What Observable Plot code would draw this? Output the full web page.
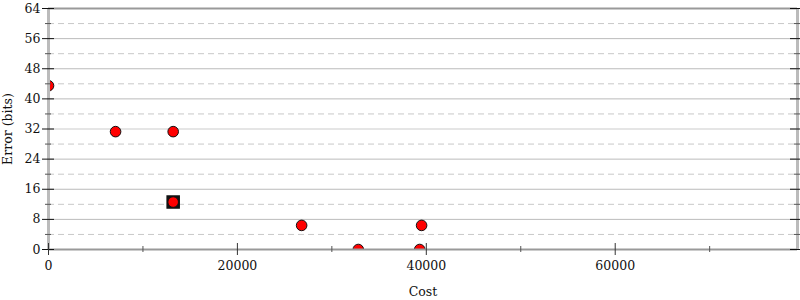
<!DOCTYPE html>
<html>
<head>
<meta charset="utf-8">
<script src="https://cdn.jsdelivr.net/npm/d3@7"></script>
<script src="https://cdn.jsdelivr.net/npm/@observablehq/plot@0.6"></script>
<style>
  html, body { margin: 0; padding: 0; background: #fff; }
  #chart svg { display: block; }
</style>
</head>
<body>
<div id="chart"></div>
<script>
const costs  = [0, 7100, 13200, 26800, 32800, 39300, 39500];
const errors = [43.5, 31.3, 31.3, 6.4, 0, 0, 6.4];
const highlightCost = [13200];
const highlightError = [12.6];
const dotCosts = [13200];
const dotErrors = [12.6];
const yMajor = [0, 8, 16, 24, 32, 40, 48, 56, 64];
const yGridDark = [8, 16, 24, 40, 48, 56];
const yGridLight = [32];
const yMinor = [4, 12, 20, 28, 36, 44, 52, 60];
const xMajor = [0, 20000, 40000, 60000];
const xMinor = [10000, 30000, 50000, 70000];
const xMax = 79300;

const pts = costs.map((c, i) => ({cost: c, error: errors[i]}));
const hl = highlightCost.map((c, i) => ({cost: c, error: highlightError[i]}));
const extra = dotCosts.map((c, i) => ({cost: c, error: dotErrors[i]}));

const plot = Plot.plot({
  width: 800,
  height: 300,
  marginLeft: 48,
  marginRight: 3,
  marginTop: 8,
  marginBottom: 51,
  style: {fontFamily: "DejaVu Serif", fontSize: "12.5px", color: "#111", background: "#fff"},
  x: {domain: [0, xMax]},
  y: {domain: [0, 64]},
  marks: [
    Plot.ruleY(yGridDark, {stroke: "#bbb", strokeWidth: 1}),
    Plot.ruleY(yGridLight, {stroke: "#ddd", strokeWidth: 1.5}),
    Plot.ruleY(yMinor, {stroke: "#c8c8c8", strokeWidth: 1, strokeDasharray: "6,4"}),
    Plot.dot(hl, {x: "cost", y: "error", symbol: "square", r: 6.8, fill: "#111", stroke: "#111", clip: true}),
    Plot.dot(pts.concat(extra), {x: "cost", y: "error", r: 5.3, fill: "#ff0000", stroke: "#111", strokeWidth: 1, clip: true}),
    Plot.ruleX([0, xMax], {stroke: "#bbb", strokeWidth: 3}),
    Plot.ruleY([0, 64], {stroke: "#999", strokeWidth: 2}),
    // left axis ticks
    Plot.axisY(yMajor, {anchor: "left", tickSize: 12, dx: 6, tickFormat: () => "", label: null, stroke: "#111"}),
    Plot.axisY(yMinor, {anchor: "left", tickSize: 6, dx: 3, tickFormat: () => "", label: null, stroke: "#555"}),
    Plot.axisY(yMajor, {anchor: "left", tickSize: 0, tickPadding: 8, label: "Error (bits)", labelAnchor: "center", labelOffset: 45, labelArrow: "none", fill: "#111"}),
    // right axis ticks
    Plot.axisY(yMajor, {anchor: "right", tickSize: 12, dx: -8, tickFormat: () => "", label: null, stroke: "#111"}),
    Plot.axisY(yMinor, {anchor: "right", tickSize: 6, dx: -4, tickFormat: () => "", label: null, stroke: "#555"}),
    // x axis ticks
    Plot.axisX(xMajor, {anchor: "bottom", tickSize: 12, dy: -6, tickFormat: () => "", label: null, stroke: "#333"}),
    Plot.axisX(xMinor, {anchor: "bottom", tickSize: 6, dy: -3, tickFormat: () => "", label: null, stroke: "#555"}),
    Plot.axisX(xMajor, {anchor: "bottom", tickSize: 0, tickPadding: 12, tickFormat: d => String(d), label: "Cost", labelAnchor: "center", labelOffset: 46, labelArrow: "none", fill: "#111"})
  ]
});
document.getElementById("chart").appendChild(plot);
</script>
</body>
</html>
